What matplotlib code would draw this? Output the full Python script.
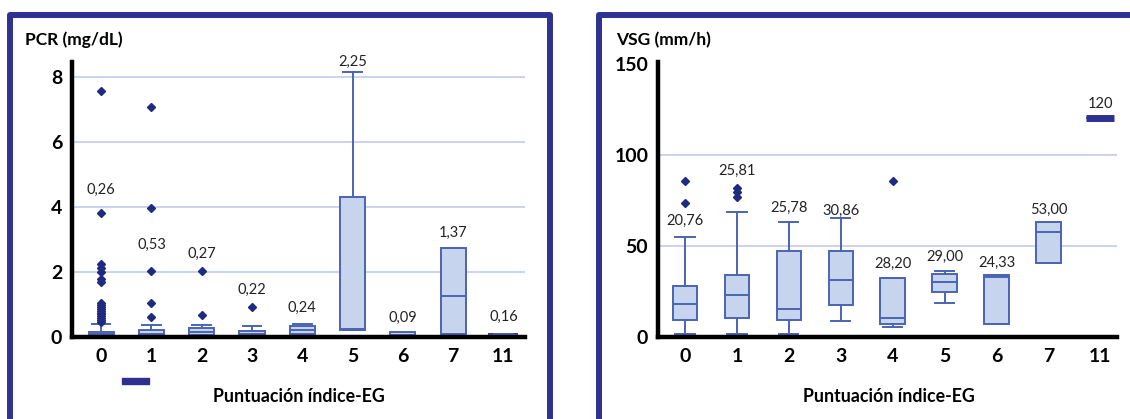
import matplotlib

matplotlib.use("Agg")
import matplotlib.pyplot as plt
from matplotlib.lines import Line2D
from matplotlib.patches import Rectangle

plt.rcParams["font.family"] = ["Lato", "DejaVu Sans"]

W, H = 1130, 419

categories = ["0", "1", "2", "3", "4", "5", "6", "7", "11"]

# PCR (mg/dL) box statistics per index score
pcr_q1 = [0.04, 0.04, 0.06, 0.05, 0.08, 0.22, 0.03, 0.08, 0.03]
pcr_med = [0.08, 0.09, 0.14, 0.10, 0.22, 0.24, 0.06, 1.27, 0.06]
pcr_q3 = [0.15, 0.20, 0.27, 0.19, 0.35, 4.29, 0.15, 2.72, 0.09]
pcr_whislo = [0.0, 0.0, 0.0, 0.0, 0.05, 0.22, 0.03, 0.08, 0.03]
pcr_whishi = [0.39, 0.37, 0.37, 0.33, 0.41, 8.14, 0.15, 2.72, 0.09]
pcr_fliers = [
    [7.57, 3.80, 2.25, 2.12, 2.00, 1.78, 1.70, 1.03, 0.97, 0.92, 0.86,
     0.80, 0.75, 0.70, 0.64, 0.58, 0.52, 0.47],
    [7.08, 3.95, 2.02, 1.06, 0.60],
    [2.02, 0.68],
    [0.93],
    [], [], [], [], [],
]
pcr_labels = ["0,26", "0,53", "0,27", "0,22", "0,24", "2,25", "0,09", "1,37", "0,16"]
pcr_ticks = [0, 2, 4, 6, 8]

# VSG (mm/h) box statistics per index score
vsg_q1 = [9.4, 10.7, 9.4, 17.6, 7.0, 24.6, 7.0, 40.9, 120]
vsg_med = [18.1, 22.8, 15.4, 31.1, 10.4, 30.2, 33.0, 57.6, 120]
vsg_q3 = [28.0, 33.9, 47.4, 47.4, 32.4, 34.8, 34.3, 63.0, 120]
vsg_whislo = [1.5, 1.5, 1.5, 8.9, 5.7, 18.7, 7.0, 40.9, 120]
vsg_whishi = [54.8, 68.5, 63.0, 65.4, 32.4, 36.3, 34.3, 63.0, 120]
vsg_fliers = [[85.7, 73.7], [82.0, 79.5, 77.0], [], [], [85.7], [], [], [], []]
vsg_labels = ["20,76", "25,81", "25,78", "30,86", "28,20", "29,00", "24,33", "53,00", "120"]
vsg_ticks = [0, 50, 100, 150]

# label heights above each box (data units)
pcr_label_y = [4.53, 2.84, 2.54, 1.46, 0.88, 8.45, 0.60, 3.19, 0.63]
vsg_label_y = [63.5, 91.3, 70.9, 69.4, 40.4, 44.1, 40.9, 69.6, 127.8]

NAVY = "#2e3192"
BOX_FACE = "#c7d4ee"
BOX_EDGE = "#4b64b4"
FLIER = "#1f2b80"
GRID = "#c3cbe9"


def fx(px):
    return px / W


def fy(py):
    return 1 - py / H


def boxplot_panel(ax, q1, med, q3, lo, hi, fliers, labels, label_y, ticks, ylim, grid_levels, widths):
    stats = []
    for i in range(len(categories)):
        stats.append(dict(q1=q1[i], med=med[i], q3=q3[i], whislo=lo[i], whishi=hi[i],
                          fliers=fliers[i], label=categories[i]))
    pos = list(range(len(categories)))
    for g in grid_levels:
        ax.axhline(g, color=GRID, lw=1.2, zorder=0)
    res = ax.bxp(stats, positions=pos, widths=widths, capwidths=0.37, patch_artist=True,
                 boxprops=dict(facecolor=BOX_FACE, edgecolor=BOX_EDGE, linewidth=1.4),
                 medianprops=dict(color=BOX_EDGE, linewidth=1.4),
                 whiskerprops=dict(color=BOX_EDGE, linewidth=1.4),
                 capprops=dict(color=BOX_EDGE, linewidth=1.4),
                 flierprops=dict(marker="D", markersize=4.4, markerfacecolor=FLIER,
                                 markeredgecolor=FLIER))
    for x, s, y in zip(pos, labels, label_y):
        ax.text(x, y, s, ha="center", va="center", fontsize=10.5, color="#222222",
                clip_on=False)
    ax.set_ylim(*ylim)
    ax.set_yticks(ticks)
    ax.set_xticks(pos)
    ax.set_xticklabels(categories)
    for sp in ("top", "right"):
        ax.spines[sp].set_visible(False)
    for sp in ("left", "bottom"):
        ax.spines[sp].set_linewidth(3.2)
        ax.spines[sp].set_color("black")
    ax.tick_params(length=0, labelsize=14)
    ax.tick_params(axis="x", pad=8)
    ax.tick_params(axis="y", pad=7)
    for t in ax.get_xticklabels() + ax.get_yticklabels():
        t.set_fontweight("bold")
    return res


fig = plt.figure(figsize=(W / 100, H / 100), dpi=100)

ax1 = fig.add_axes([fx(72), fy(337), fx(525) - fx(72), fy(62) - fy(337)])
r1 = boxplot_panel(ax1, pcr_q1, pcr_med, pcr_q3, pcr_whislo, pcr_whishi, pcr_fliers,
                   pcr_labels, pcr_label_y, pcr_ticks, (0, 8.45), pcr_ticks[1:],
                   [0.5] * 8 + [0.56])
ax1.set_xlim(-0.58, 8.43)
r1["boxes"][8].set_facecolor(NAVY)
r1["boxes"][8].set_edgecolor(NAVY)

ax2 = fig.add_axes([fx(658), fy(337), fx(1117) - fx(658), fy(62) - fy(337)])
r2 = boxplot_panel(ax2, vsg_q1, vsg_med, vsg_q3, vsg_whislo, vsg_whishi, vsg_fliers,
                   vsg_labels, vsg_label_y, vsg_ticks, (0, 151), vsg_ticks[1:-1],
                   [0.47] * 8 + [0.54])
ax2.set_xlim(-0.52, 8.32)
r2["medians"][8].set_color(NAVY)
r2["medians"][8].set_linewidth(5)

# panel titles and axis captions
fig.text(fx(25), fy(40), "PCR (mg/dL)", fontsize=12.5, fontweight="bold", va="center")
fig.text(fx(616), fy(40), "VSG (mm/h)", fontsize=12.5, fontweight="bold", va="center")
fig.text(fx(299), fy(396), "Puntuación índice-EG", fontsize=12.8, fontweight="bold",
         ha="center", va="center")
fig.text(fx(889), fy(396), "Puntuación índice-EG", fontsize=12.8, fontweight="bold",
         ha="center", va="center")

# small marker under the left panel
fig.patches.append(Rectangle((fx(122), fy(384)), fx(27), fy(378) - fy(384),
                             transform=fig.transFigure, color=NAVY))

# panel frames
fig.lines.append(Line2D([fx(10), fx(10), fx(550), fx(550)],
                        [fy(430), fy(15), fy(15), fy(430)],
                        transform=fig.transFigure, color=NAVY, lw=4.3))
fig.lines.append(Line2D([fx(598.5), fx(598.5), fx(1140)],
                        [fy(430), fy(15), fy(15)],
                        transform=fig.transFigure, color=NAVY, lw=4.3))

fig.savefig("out.png", dpi=100, facecolor="white")
